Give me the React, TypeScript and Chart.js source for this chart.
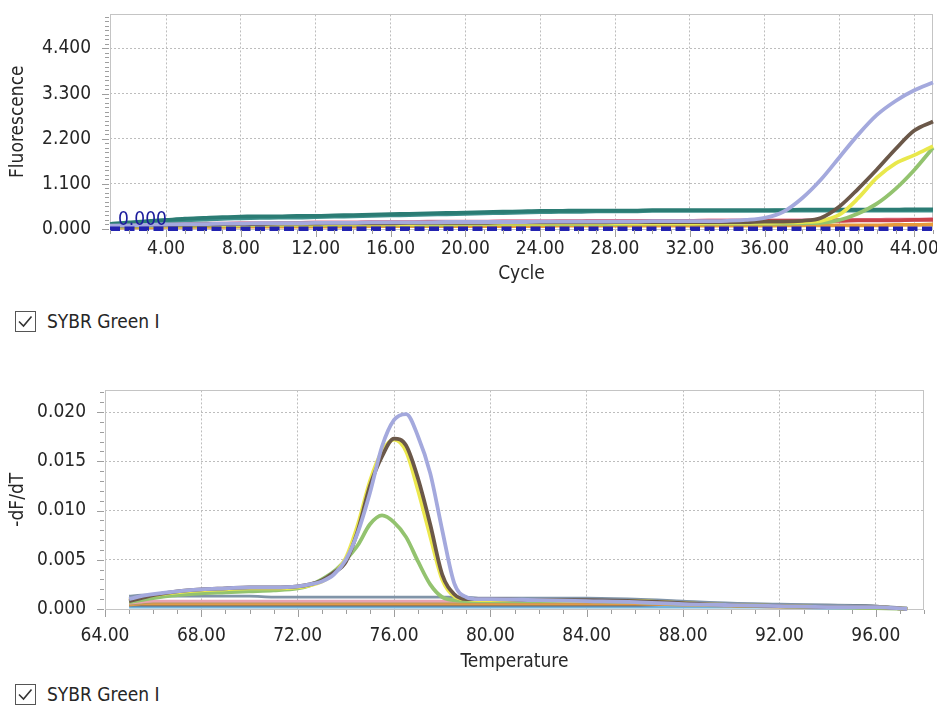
import React, { useEffect, useRef } from 'react';
import { Chart, registerables } from 'chart.js';

Chart.register(...registerables);

const FONT = "'DejaVu Sans Condensed', 'DejaVu Sans', sans-serif";
const TEXT = '#262626';

// ---------------- Amplification plot ----------------
const cycles = [1, 2, 3, 4, 5, 6, 7, 8, 9, 10, 11, 12, 13, 14, 15, 16, 17, 18, 19, 20, 21, 22, 23, 24, 25, 26, 27, 28, 29, 30, 31, 32, 33, 34, 35, 36, 37, 38, 39, 40, 41, 42, 43, 44, 45];

const ampLavender = [0.08, 0.09, 0.10, 0.11, 0.12, 0.12, 0.13, 0.13, 0.14, 0.14, 0.14, 0.15, 0.15, 0.15, 0.16, 0.16, 0.16, 0.16, 0.17, 0.17, 0.17, 0.17, 0.17, 0.18, 0.18, 0.18, 0.18, 0.18, 0.18, 0.19, 0.19, 0.19, 0.19, 0.20, 0.22, 0.27, 0.42, 0.75, 1.20, 1.75, 2.30, 2.78, 3.12, 3.38, 3.57];
const ampBrown = [0.07, 0.08, 0.09, 0.10, 0.11, 0.11, 0.12, 0.12, 0.12, 0.13, 0.13, 0.13, 0.14, 0.14, 0.14, 0.14, 0.15, 0.15, 0.15, 0.15, 0.15, 0.16, 0.16, 0.16, 0.16, 0.16, 0.16, 0.17, 0.17, 0.17, 0.17, 0.17, 0.17, 0.17, 0.17, 0.18, 0.18, 0.20, 0.27, 0.55, 0.98, 1.45, 1.95, 2.40, 2.62];
const ampYellow = [0.06, 0.07, 0.08, 0.09, 0.09, 0.10, 0.10, 0.10, 0.11, 0.11, 0.11, 0.11, 0.12, 0.12, 0.12, 0.12, 0.12, 0.13, 0.13, 0.13, 0.13, 0.13, 0.13, 0.13, 0.14, 0.14, 0.14, 0.14, 0.14, 0.14, 0.14, 0.14, 0.15, 0.15, 0.15, 0.15, 0.16, 0.17, 0.20, 0.35, 0.75, 1.25, 1.60, 1.80, 2.02];
const ampGreen = [0.05, 0.06, 0.07, 0.08, 0.08, 0.09, 0.09, 0.09, 0.10, 0.10, 0.10, 0.10, 0.10, 0.11, 0.11, 0.11, 0.11, 0.11, 0.11, 0.12, 0.12, 0.12, 0.12, 0.12, 0.12, 0.12, 0.12, 0.12, 0.13, 0.13, 0.13, 0.13, 0.13, 0.13, 0.13, 0.13, 0.13, 0.14, 0.15, 0.22, 0.38, 0.62, 0.98, 1.44, 1.98];
const ampTeal = [0.12, 0.16, 0.19, 0.22, 0.25, 0.27, 0.29, 0.30, 0.31, 0.31, 0.32, 0.32, 0.33, 0.34, 0.35, 0.36, 0.37, 0.38, 0.39, 0.40, 0.41, 0.42, 0.43, 0.44, 0.44, 0.45, 0.45, 0.45, 0.45, 0.46, 0.46, 0.46, 0.46, 0.46, 0.46, 0.46, 0.46, 0.47, 0.47, 0.47, 0.47, 0.47, 0.47, 0.48, 0.48];
const ampTeal2 = [0.10, 0.13, 0.16, 0.19, 0.21, 0.23, 0.25, 0.26, 0.27, 0.28, 0.28, 0.29, 0.30, 0.31, 0.32, 0.33, 0.34, 0.35, 0.36, 0.37, 0.38, 0.39, 0.40, 0.41, 0.42, 0.42, 0.43, 0.43, 0.43, 0.44, 0.44, 0.44, 0.44, 0.44, 0.44, 0.44, 0.45, 0.45, 0.45, 0.45, 0.45, 0.45, 0.45, 0.45, 0.45];
const ampRed = [0.06, 0.07, 0.08, 0.09, 0.10, 0.10, 0.11, 0.11, 0.12, 0.12, 0.13, 0.13, 0.14, 0.14, 0.15, 0.15, 0.15, 0.16, 0.16, 0.16, 0.17, 0.17, 0.17, 0.17, 0.18, 0.18, 0.18, 0.18, 0.18, 0.19, 0.19, 0.19, 0.19, 0.19, 0.19, 0.20, 0.20, 0.20, 0.20, 0.20, 0.21, 0.21, 0.21, 0.22, 0.22];
const ampPink = [0.08, 0.09, 0.10, 0.11, 0.12, 0.13, 0.13, 0.14, 0.14, 0.15, 0.15, 0.16, 0.16, 0.16, 0.17, 0.17, 0.17, 0.18, 0.18, 0.18, 0.18, 0.19, 0.19, 0.19, 0.19, 0.19, 0.20, 0.20, 0.20, 0.20, 0.20, 0.20, 0.21, 0.21, 0.21, 0.21, 0.21, 0.21, 0.22, 0.22, 0.22, 0.22, 0.23, 0.23, 0.24];
const ampOrange = [0.03, 0.04, 0.04, 0.05, 0.05, 0.05, 0.05, 0.06, 0.06, 0.06, 0.06, 0.06, 0.06, 0.06, 0.07, 0.07, 0.07, 0.07, 0.07, 0.07, 0.07, 0.07, 0.07, 0.07, 0.08, 0.08, 0.08, 0.08, 0.08, 0.08, 0.08, 0.08, 0.08, 0.08, 0.08, 0.08, 0.09, 0.09, 0.09, 0.09, 0.09, 0.09, 0.10, 0.10, 0.11];

const thresholdValue = 0.005;
const thresholdLabel = '0.000';
const ampXRange = [1, 45];
const ampYRange = [0, 5.23];
const ampXMajor = 4;
const ampYMajor = 1.1;
const ampYMinor = 0.11;

// ---------------- Melt curve plot ----------------
const temps = [65, 65.5, 66, 67, 68, 69, 70, 71, 72, 72.5, 73, 73.5, 74, 74.5, 75, 75.5, 76, 76.5, 77, 77.5, 78, 78.5, 79, 79.5, 80, 82, 84, 86, 88, 90, 92, 94, 96, 97.3];

const meltLavender = [0.0010, 0.0013, 0.0015, 0.0018, 0.0020, 0.0021, 0.0022, 0.0022, 0.0023, 0.0025, 0.0028, 0.0035, 0.0050, 0.0078, 0.0118, 0.0165, 0.0192, 0.0198, 0.0175, 0.0138, 0.0080, 0.0026, 0.0012, 0.0010, 0.0010, 0.0009, 0.0008, 0.0007, 0.0005, 0.0004, 0.0003, 0.0002, 0.0002, 0.0000];
const meltBrown = [0.0008, 0.0011, 0.0014, 0.0018, 0.0020, 0.0021, 0.0022, 0.0022, 0.0023, 0.0025, 0.0029, 0.0037, 0.0048, 0.0080, 0.0125, 0.0155, 0.0173, 0.0166, 0.0132, 0.0086, 0.0035, 0.0015, 0.0010, 0.0010, 0.0010, 0.0009, 0.0009, 0.0008, 0.0006, 0.0004, 0.0003, 0.0002, 0.0002, 0.0000];
const meltYellow = [0.0009, 0.0012, 0.0014, 0.0017, 0.0019, 0.0020, 0.0021, 0.0021, 0.0022, 0.0024, 0.0028, 0.0036, 0.0052, 0.0086, 0.0130, 0.0160, 0.0172, 0.0160, 0.0120, 0.0074, 0.0030, 0.0013, 0.0010, 0.0009, 0.0009, 0.0009, 0.0008, 0.0008, 0.0006, 0.0004, 0.0003, 0.0002, 0.0002, 0.0000];
const meltGreen = [0.0007, 0.0009, 0.0011, 0.0014, 0.0016, 0.0017, 0.0018, 0.0019, 0.0021, 0.0024, 0.0030, 0.0038, 0.0050, 0.0065, 0.0086, 0.0095, 0.0088, 0.0073, 0.0048, 0.0025, 0.0012, 0.0009, 0.0008, 0.0008, 0.0008, 0.0008, 0.0008, 0.0007, 0.0005, 0.0004, 0.0003, 0.0002, 0.0001, 0.0000];
const meltSteel = [0.0013, 0.0014, 0.0014, 0.0013, 0.0013, 0.0013, 0.0013, 0.0012, 0.0012, 0.0012, 0.0012, 0.0012, 0.0012, 0.0012, 0.0012, 0.0012, 0.0012, 0.0012, 0.0012, 0.0012, 0.0012, 0.0012, 0.0012, 0.0011, 0.0011, 0.0011, 0.0011, 0.0010, 0.0008, 0.0006, 0.0005, 0.0004, 0.0003, 0.0001];
const meltPink = [0.0006, 0.0007, 0.0008, 0.0008, 0.0008, 0.0008, 0.0008, 0.0008, 0.0008, 0.0008, 0.0008, 0.0008, 0.0008, 0.0008, 0.0008, 0.0008, 0.0008, 0.0008, 0.0008, 0.0008, 0.0008, 0.0008, 0.0008, 0.0008, 0.0008, 0.0008, 0.0008, 0.0007, 0.0005, 0.0004, 0.0003, 0.0002, 0.0001, 0.0000];
const meltTan = [0.0005, 0.0006, 0.0007, 0.0007, 0.0007, 0.0007, 0.0007, 0.0007, 0.0007, 0.0007, 0.0007, 0.0007, 0.0007, 0.0007, 0.0007, 0.0007, 0.0007, 0.0007, 0.0007, 0.0007, 0.0007, 0.0007, 0.0007, 0.0007, 0.0007, 0.0007, 0.0007, 0.0007, 0.0006, 0.0004, 0.0003, 0.0002, 0.0001, 0.0000];
const meltOrange = [0.0004, 0.0005, 0.0005, 0.0005, 0.0005, 0.0005, 0.0005, 0.0005, 0.0005, 0.0005, 0.0005, 0.0005, 0.0005, 0.0005, 0.0005, 0.0005, 0.0005, 0.0005, 0.0005, 0.0005, 0.0005, 0.0005, 0.0005, 0.0005, 0.0005, 0.0005, 0.0005, 0.0005, 0.0004, 0.0003, 0.0002, 0.0002, 0.0001, 0.0000];
const meltDark = [0.0004, 0.0004, 0.0004, 0.0004, 0.0004, 0.0004, 0.0004, 0.0004, 0.0004, 0.0004, 0.0004, 0.0004, 0.0004, 0.0004, 0.0004, 0.0004, 0.0004, 0.0004, 0.0004, 0.0004, 0.0004, 0.0004, 0.0004, 0.0004, 0.0004, 0.0004, 0.0004, 0.0004, 0.0005, 0.0005, 0.0004, 0.0004, 0.0003, 0.0000];
const meltLightBlue = [0.0002, 0.0002, 0.0002, 0.0002, 0.0002, 0.0002, 0.0002, 0.0002, 0.0002, 0.0002, 0.0002, 0.0002, 0.0002, 0.0002, 0.0002, 0.0002, 0.0002, 0.0002, 0.0002, 0.0002, 0.0002, 0.0002, 0.0002, 0.0002, 0.0002, 0.0002, 0.0002, 0.0002, 0.0002, 0.0002, 0.0002, 0.0001, 0.0001, 0.0000];

const meltXRange = [64, 98];
const meltYRange = [0, 0.0222];
const meltXMajor = 4;
const meltYMajor = 0.005;
const meltYMinor = 0.001;

const channelName = 'SYBR Green I';

// ---------------- helpers ----------------
function isMajor(v: number | undefined, step: number): boolean {
  if (v === undefined || v === null) return false;
  const r = v / step;
  return Math.abs(r - Math.round(r)) < 1e-6;
}

function toPoints(xs: number[], ys: number[]) {
  return xs.map((x, i) => ({ x, y: ys[i] }));
}

const axisDecor = {
  id: 'axisDecor',
  beforeDatasetsDraw(chart: any) {
    const { ctx, chartArea: a } = chart;
    ctx.save();
    ctx.setLineDash([]);
    ctx.strokeStyle = '#c4c4c4';
    ctx.lineWidth = 1;
    ctx.strokeRect(Math.round(a.left) + 0.5, Math.round(a.top) + 0.5, Math.round(a.right - a.left) - 1, Math.round(a.bottom - a.top));
    ctx.restore();
  },
  afterDatasetsDraw(chart: any, _args: any, opts: any) {
    if (!opts || !opts.label) return;
    const { ctx, chartArea: a, scales } = chart;
    const py = scales.y.getPixelForValue(opts.threshold);
    ctx.save();
    ctx.fillStyle = '#1c1c9c';
    ctx.font = `19px ${FONT}`;
    ctx.textAlign = 'left';
    ctx.textBaseline = 'alphabetic';
    ctx.fillText(opts.label, a.left + 8, py - 4);
    ctx.restore();
  },
  afterDraw(chart: any, _args: any, opts: any) {
    const { ctx, chartArea: a, scales } = chart;
    const xs = scales.x;
    const ys = scales.y;
    ctx.save();
    ctx.setLineDash([]);
    ctx.strokeStyle = '#9e9e9e';
    ctx.lineWidth = 1;
    xs.ticks.forEach((t: any) => {
      const px = Math.round(xs.getPixelForValue(t.value)) + 0.5;
      const len = isMajor(t.value, opts.xMajor) ? 7 : 4;
      ctx.beginPath();
      ctx.moveTo(px, a.bottom + 1);
      ctx.lineTo(px, a.bottom + 1 + len);
      ctx.stroke();
    });
    ys.ticks.forEach((t: any) => {
      const py = Math.round(ys.getPixelForValue(t.value)) + 0.5;
      const len = isMajor(t.value, opts.yMajor) ? 7 : 4;
      ctx.beginPath();
      ctx.moveTo(a.left - 1 - len, py);
      ctx.lineTo(a.left - 1, py);
      ctx.stroke();
    });
    ctx.restore();
  },
};

function line(label: string, color: string, data: any[], width = 3.8) {
  return {
    label,
    data,
    borderColor: color,
    backgroundColor: color,
    borderWidth: width,
    pointRadius: 0,
    fill: false,
    clip: 4,
    cubicInterpolationMode: 'monotone' as const,
  };
}

function baseOptions(cfg: any) {
  return {
    responsive: false,
    animation: false as const,
    devicePixelRatio: 1,
    events: [],
    layout: { padding: cfg.padding },
    plugins: {
      legend: { display: false },
      tooltip: { enabled: false },
      axisDecor: cfg.decor,
    },
    scales: {
      x: {
        type: 'linear' as const,
        min: cfg.xRange[0],
        max: cfg.xRange[1],
        afterFit: (s: any) => { s.height = cfg.xHeight; },
        ticks: {
          stepSize: 1,
          autoSkip: false,
          maxRotation: 0,
          includeBounds: false,
          maxTicksLimit: 1000,
          padding: cfg.xTickPad,
          color: TEXT,
          font: { family: FONT, size: 19 },
          callback: (v: any) => (isMajor(Number(v), cfg.xMajor) ? Number(v).toFixed(2) : ''),
        },
        grid: {
          color: (c: any) => (c.tick && isMajor(c.tick.value, cfg.xMajor) ? '#bdbdbd' : 'rgba(0,0,0,0)'),
          tickColor: 'rgba(0,0,0,0)',
          tickLength: cfg.xTickLen,
          lineWidth: 1,
        },
        border: { display: false, dash: [2, 2] },
        title: {
          display: true,
          text: cfg.xTitle,
          color: TEXT,
          font: { family: FONT, size: 19 },
          padding: { top: 0, bottom: cfg.xTitlePad },
        },
      },
      y: {
        type: 'linear' as const,
        min: cfg.yRange[0],
        max: cfg.yRange[1],
        afterFit: (s: any) => { s.width = cfg.yWidth; },
        ticks: {
          stepSize: cfg.yMinor,
          autoSkip: false,
          includeBounds: false,
          maxTicksLimit: 1000,
          padding: 11,
          color: TEXT,
          font: { family: FONT, size: 19 },
          callback: (v: any) => (isMajor(Number(v), cfg.yMajor) ? Number(v).toFixed(3) : ''),
        },
        grid: {
          color: (c: any) => (c.tick && isMajor(c.tick.value, cfg.yMajor) && c.tick.value > 0 ? '#bdbdbd' : 'rgba(0,0,0,0)'),
          tickColor: 'rgba(0,0,0,0)',
          tickLength: 8,
          lineWidth: 1,
        },
        border: { display: false, dash: [2, 2] },
        title: {
          display: true,
          text: cfg.yTitle,
          color: TEXT,
          font: { family: FONT, size: 19 },
          padding: { top: 7, bottom: 0 },
        },
      },
    },
  };
}

function ChartCanvas({ width, height, build }: { width: number; height: number; build: (c: HTMLCanvasElement) => Chart }) {
  const ref = useRef<HTMLCanvasElement | null>(null);
  useEffect(() => {
    if (!ref.current) return;
    const chart = build(ref.current);
    return () => chart.destroy();
  }, []);
  return <canvas ref={ref} width={width} height={height} style={{ display: 'block', width, height }} />;
}

function buildAmp(canvas: HTMLCanvasElement) {
  const thresholdLine = {
    label: 'Threshold',
    data: [{ x: ampXRange[0], y: thresholdValue }, { x: ampXRange[1], y: thresholdValue }],
    borderColor: '#2323b0',
    borderWidth: 4.5,
    borderDash: [10, 4.5],
    pointRadius: 0,
    fill: false,
    clip: false,
  };
  return new Chart(canvas, {
    type: 'line',
    data: {
      datasets: [
        thresholdLine,
        line('A1', '#a4a9dd', toPoints(cycles, ampLavender)),
        line('A2', '#6b5849', toPoints(cycles, ampBrown)),
        line('A3', '#e9e84c', toPoints(cycles, ampYellow)),
        line('A4', '#93c36f', toPoints(cycles, ampGreen)),
        line('B1', '#2b7c74', toPoints(cycles, ampTeal)),
        line('B2', '#3f918d', toPoints(cycles, ampTeal2)),
        line('B3', '#c9424a', toPoints(cycles, ampRed)),
        line('B4', '#de7894', toPoints(cycles, ampPink)),
        line('B5', '#e79a3a', toPoints(cycles, ampOrange)),
      ] as any,
    },
    options: baseOptions({
      padding: { top: 0, right: 4, left: 0, bottom: 0 },
      decor: { xMajor: ampXMajor, yMajor: ampYMajor, threshold: thresholdValue, label: thresholdLabel },
      xRange: ampXRange,
      yRange: ampYRange,
      xMajor: ampXMajor,
      yMajor: ampYMajor,
      yMinor: ampYMinor,
      xHeight: 61,
      xTickPad: 3,
      xTickLen: 6,
      xTitle: 'Cycle',
      xTitlePad: 5,
      yWidth: 110,
      yTitle: 'Fluorescence',
    }) as any,
    plugins: [axisDecor as any],
  });
}

function buildMelt(canvas: HTMLCanvasElement) {
  return new Chart(canvas, {
    type: 'line',
    data: {
      datasets: [
        line('A1', '#a4a9dd', toPoints(temps, meltLavender)),
        line('A2', '#6b5849', toPoints(temps, meltBrown)),
        line('A3', '#ece84e', toPoints(temps, meltYellow)),
        line('A4', '#93c36f', toPoints(temps, meltGreen)),
        line('B1', '#8094a8', toPoints(temps, meltSteel), 2.8),
        line('B2', '#e7a3b3', toPoints(temps, meltPink), 2.8),
        line('B3', '#b9985f', toPoints(temps, meltTan), 2.8),
        line('B4', '#e39a45', toPoints(temps, meltOrange), 2.8),
        line('B5', '#5a6068', toPoints(temps, meltDark), 2.8),
        line('B6', '#73b3dc', toPoints(temps, meltLightBlue), 2.8),
      ] as any,
    },
    options: baseOptions({
      padding: { top: 0, right: 13, left: 0, bottom: 0 },
      decor: { xMajor: meltXMajor, yMajor: meltYMajor },
      xRange: meltXRange,
      yRange: meltYRange,
      xMajor: meltXMajor,
      yMajor: meltYMajor,
      yMinor: meltYMinor,
      xHeight: 71,
      xTickPad: 8,
      xTickLen: 8,
      xTitle: 'Temperature',
      xTitlePad: 7,
      yWidth: 105,
      yTitle: '-dF/dT',
    }) as any,
    plugins: [axisDecor as any],
  });
}

function CheckLabel({ top }: { top: number }) {
  return (
    <div style={{ position: 'absolute', left: 15, top, height: 21, display: 'flex', alignItems: 'center' }}>
      <svg width={21} height={21} style={{ display: 'block' }}>
        <rect x={0.5} y={0.5} width={20} height={20} fill="#fff" stroke="#555" strokeWidth={1} />
        <polyline points="4,10.5 8.5,15 16.5,5.5" fill="none" stroke="#333" strokeWidth={1.6} />
      </svg>
      <span style={{ marginLeft: 11, fontFamily: FONT, fontSize: 19, color: TEXT, lineHeight: '21px', whiteSpace: 'nowrap' }}>{channelName}</span>
    </div>
  );
}

export default function App() {
  return (
    <div style={{ position: 'absolute', left: 0, top: 0, width: 937, height: 705, background: '#fff', overflow: 'hidden' }}>
      <div style={{ position: 'absolute', left: 0, top: -8 }}>
        <ChartCanvas width={937} height={298} build={buildAmp} />
      </div>
      <CheckLabel top={311} />
      <div style={{ position: 'absolute', left: 0, top: 368 }}>
        <ChartCanvas width={937} height={312} build={buildMelt} />
      </div>
      <CheckLabel top={684} />
    </div>
  );
}
